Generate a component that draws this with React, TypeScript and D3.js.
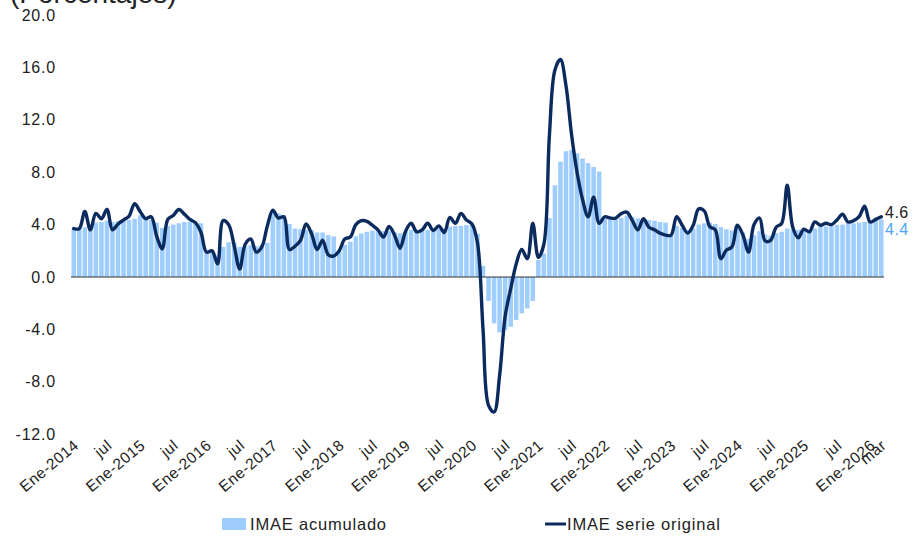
import React from 'react';
import * as d3 from 'd3';

// categories: monthly, Ene-2014 .. mar-2026
const years = [2014, 2015, 2016, 2017, 2018, 2019, 2020, 2021, 2022, 2023, 2024, 2025, 2026];
const monthKeys = ['01', '02', '03', '04', '05', '06', '07', '08', '09', '10', '11', '12'];
const lastYearMonths = 3;

const categories: string[] = years.flatMap(y =>
    monthKeys.filter((m, k) => y < 2026 || k < lastYearMonths).map(m => `${y}-${m}`));

// IMAE acumulado (bars)
const imaeAcumulado = [
    3.66, 3.7, 3.8, 3.95, 4.15, 4.2, 4.3, 4.2, 4.25, 4.3, 4.35, 4.45,
    4.7, 4.6, 4.35, 4.15, 3.75, 3.9, 4.0, 4.1, 4.2, 4.2, 4.15, 4.1,
    1.9, 1.95, 1.65, 2.3, 2.65, 2.65, 2.3, 2.35, 2.45, 2.35, 2.45, 2.6,
    4.95, 4.85, 4.7, 4.05, 3.7, 3.65, 3.6, 3.6, 3.4, 3.4, 3.2, 3.1,
    2.0, 2.45, 2.7, 3.1, 3.33, 3.45, 3.55, 3.6, 3.5, 3.5, 3.45, 3.35,
    3.45, 3.6, 3.5, 3.5, 3.6, 3.6, 3.7, 3.65, 3.85, 3.9, 3.9, 3.97,
    4.0, 3.3, 0.85, -1.83, -3.54, -4.23, -4.05, -3.8, -3.28, -2.77, -2.4, -1.83,
    1.3, 1.8, 4.5, 7.0, 8.8, 9.6, 9.7, 9.45, 9.05, 8.7, 8.4, 8.05,
    4.45, 4.35, 4.4, 4.5, 4.7, 4.6, 4.48, 4.45, 4.35, 4.3, 4.2, 4.15,
    3.2, 3.9, 3.75, 3.6, 3.7, 4.0, 4.1, 4.15, 4.05, 3.8, 3.65, 3.55,
    3.8, 3.4, 2.9, 3.2, 3.5, 3.25, 3.15, 3.35, 3.45, 3.7, 3.65, 3.6,
    3.5, 3.6, 3.7, 3.85, 3.85, 3.9, 3.97, 4.0, 4.1, 4.1, 4.15, 4.2,
    4.25, 4.35, 4.4
];

// IMAE serie original (line)
const imaeOriginal = [
    3.7, 3.7, 5.0, 3.6, 4.85, 4.45, 5.15, 3.6, 4.05, 4.35, 4.65, 5.6,
    5.0, 4.45, 4.6, 3.1, 2.15, 4.4, 4.7, 5.15, 4.8, 4.4, 4.15, 3.4,
    1.9, 2.0, 1.0, 4.3, 4.0, 2.4, 0.6, 2.5, 2.9, 1.9, 2.3, 3.9,
    5.1, 4.5, 4.6, 2.1, 2.35, 2.8, 4.05, 3.3, 2.1, 2.8, 1.7, 1.6,
    2.0, 2.9, 3.05, 4.0, 4.3, 4.25, 3.95, 3.6, 3.05, 3.85, 3.2, 2.2,
    3.5, 4.1, 3.45, 3.6, 4.1, 3.55, 3.9, 3.4, 4.55, 4.1, 4.85, 4.35,
    4.05, 2.6, -4.0, -9.8, -10.3, -7.5, -3.0, -0.9, 1.0, 2.1, 1.4, 4.1,
    1.5, 2.5, 10.8, 15.8, 16.6, 14.6, 10.9, 8.0, 5.9, 4.6, 6.1, 4.1,
    4.6, 4.5, 4.5, 4.85, 4.95, 4.3, 3.6, 4.45, 3.8, 3.6, 3.35, 3.2,
    3.2, 4.6, 3.95, 3.35, 3.95, 5.2, 5.05, 3.85, 3.6, 1.4, 2.05, 2.3,
    3.95, 3.2, 1.9, 4.0, 4.5, 2.75, 2.8, 3.8, 4.1, 7.0, 3.8, 3.0,
    3.65, 3.45, 4.2, 3.95, 4.1, 4.0, 4.35, 4.8, 4.2, 4.3, 4.6, 5.4,
    4.2, 4.4, 4.6
];

const yTicks = [-12, -8, -4, 0, 4, 8, 12, 16, 20];

const tickCategories = [
    '2014-01', '2014-07', '2015-01', '2015-07', '2016-01', '2016-07', '2017-01', '2017-07',
    '2018-01', '2018-07', '2019-01', '2019-07', '2020-01', '2020-07', '2021-01', '2021-07',
    '2022-01', '2022-07', '2023-01', '2023-07', '2024-01', '2024-07', '2025-01', '2025-07',
    '2026-01', '2026-03'
];
const tickLabels = [
    'Ene-2014', 'jul', 'Ene-2015', 'jul', 'Ene-2016', 'jul', 'Ene-2017', 'jul',
    'Ene-2018', 'jul', 'Ene-2019', 'jul', 'Ene-2020', 'jul', 'Ene-2021', 'jul',
    'Ene-2022', 'jul', 'Ene-2023', 'jul', 'Ene-2024', 'jul', 'Ene-2025', 'jul',
    'Ene-2026', 'mar'
];

const barColour = '#9fcdfd';
const lineColour = '#0b2a5e';
const font = '"Liberation Sans", Arial, sans-serif';

export default function App() {
    const width = 915;
    const height = 536;
    const margin = { top: 15, right: 31, bottom: 102, left: 71 };

    const x = d3.scaleBand<string>()
        .domain(categories)
        .range([margin.left, width - margin.right])
        .paddingInner(0.18)
        .paddingOuter(0.09);

    const y = d3.scaleLinear()
        .domain([-12, 20])
        .range([height - margin.bottom + 0.2, margin.top]);

    const centre = (c: string) => (x(c) as number) + x.bandwidth() / 2;

    const line = d3.line<number>()
        .x((d, i) => centre(categories[i]))
        .y(d => y(d))
        .curve(d3.curveCatmullRom.alpha(0.5));

    const lastLine = imaeOriginal[imaeOriginal.length - 1];
    const lastBar = imaeAcumulado[imaeAcumulado.length - 1];
    const endX = width - margin.right + 1;

    return (
        <svg width={width} height={height}
            style={{ position: 'absolute', left: 0, top: 0, background: '#fff' }}
            fontFamily={font}>
            <text x={10} y={3} fontSize={28} fill="#222">(Porcentajes)</text>

            {yTicks.map(t => (
                <text key={t} x={56} y={y(t)} dy="0.35em" textAnchor="end"
                    fontSize={16} letterSpacing={0.8} fill="#222">
                    {t.toFixed(1)}
                </text>
            ))}

            {categories.map((c, i) => {
                const v = imaeAcumulado[i];
                return (
                    <rect key={c} x={x(c)} width={x.bandwidth()}
                        y={Math.min(y(v), y(0))}
                        height={Math.abs(y(v) - y(0))}
                        fill={barColour} />
                );
            })}

            <line x1={margin.left} x2={width - margin.right} y1={y(0)} y2={y(0)}
                stroke="#333" strokeWidth={1} />

            <path d={line(imaeOriginal) as string} fill="none" stroke={lineColour}
                strokeWidth={3.4} strokeLinejoin="round" strokeLinecap="round" />

            <text x={endX} y={y(lastLine) + 1} fontSize={16} letterSpacing={0.5} fill="#222">
                {lastLine.toFixed(1)}
            </text>
            <text x={endX} y={y(lastLine) + 18} fontSize={16} letterSpacing={0.5} fill="#4fa6f7">
                {lastBar.toFixed(1)}
            </text>

            {tickCategories.map((c, i) => {
                const tx = centre(c) + 6;
                const ty = 447;
                return (
                    <text key={c} x={tx} y={ty} textAnchor="end" fontSize={15.5}
                        letterSpacing={0.5} fill="#222"
                        transform={`rotate(-40, ${tx}, ${ty})`}>
                        {tickLabels[i]}
                    </text>
                );
            })}

            <rect x={222} y={518} width={24} height={12} fill={barColour} />
            <text x={250} y={530} fontSize={16.5} letterSpacing={0.8} fill="#222">IMAE acumulado</text>
            <line x1={545} x2={566} y1={524} y2={524} stroke={lineColour} strokeWidth={3} />
            <text x={567} y={530} fontSize={16.5} letterSpacing={0.8} fill="#222">IMAE serie original</text>
        </svg>
    );
}
